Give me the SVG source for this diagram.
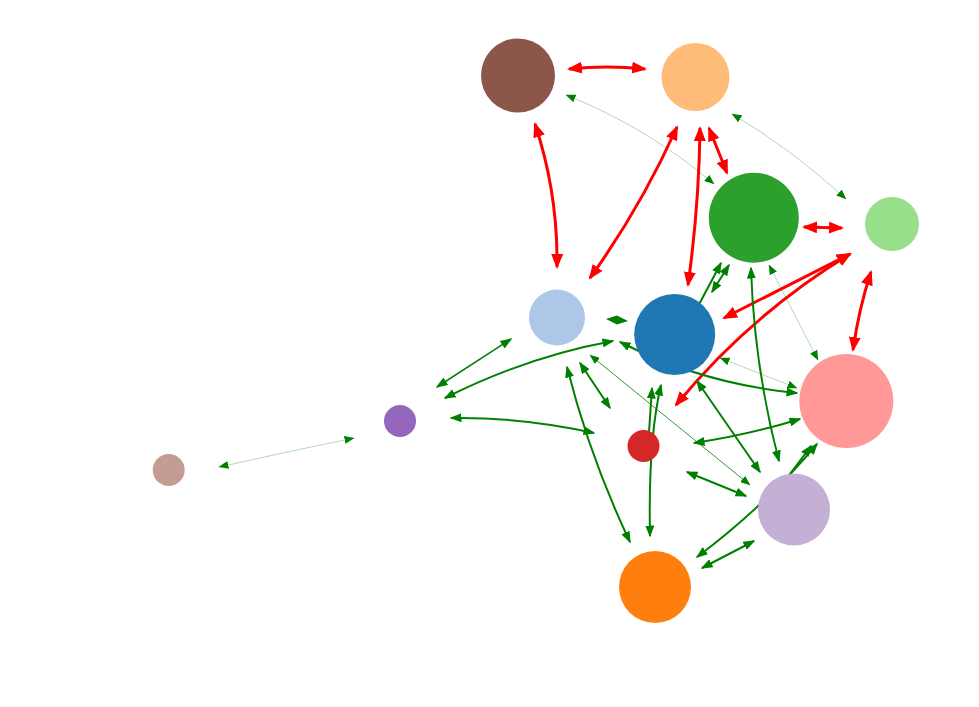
<svg xmlns="http://www.w3.org/2000/svg" width="979" height="707" viewBox="0 0 979 707">
<style>
.r{fill:none;stroke:#ff0000;stroke-width:3;marker-start:url(#rh);marker-end:url(#rh)}
.g{fill:none;stroke:#008000;stroke-width:2;marker-start:url(#gh);marker-end:url(#gh)}
.ge{fill:none;stroke:#008000;stroke-width:2;marker-end:url(#gh)}
.t{fill:none;stroke:#008000;stroke-opacity:0.3;stroke-width:1;marker-start:url(#sh);marker-end:url(#sh)}
.td{fill:none;stroke:#008000;stroke-width:0.8;marker-start:url(#sh);marker-end:url(#sh)}
</style>
<defs>
<marker id="rh" viewBox="0 0 15 12" refX="13" refY="6" markerWidth="15" markerHeight="12" markerUnits="userSpaceOnUse" orient="auto-start-reverse"><path d="M0,0L15,6L0,12z" fill="#ff0000"/></marker>
<marker id="gh" viewBox="0 0 12 9" refX="10.5" refY="4.5" markerWidth="12" markerHeight="9" markerUnits="userSpaceOnUse" orient="auto-start-reverse"><path d="M0,0L12,4.5L0,9z" fill="#008000"/></marker>
<marker id="sh" viewBox="0 0 10 8" refX="9.5" refY="4" markerWidth="10" markerHeight="8" markerUnits="userSpaceOnUse" orient="auto-start-reverse"><path d="M0,0L10,4L0,8z" fill="#008000"/></marker>
</defs>
<rect width="979" height="707" fill="#ffffff"/>
<g id="edges">
<path class="r" d="M569,69 Q607,65 645,69"/>
<path class="r" d="M535,124 Q558,193 557,267"/>
<path class="r" d="M677,127 Q641,207 590,278"/>
<path class="r" d="M700,128 Q699,207 688,285"/>
<path class="r" d="M709,128 L727,173"/>
<path class="r" d="M804,227 L842,228"/>
<path class="r" d="M850,254 L724,318"/>
<path class="r" d="M850,254 Q750,315 676,405"/>
<path class="r" d="M871,272 Q859,308 853,350"/>
<path class="g" style="stroke-width:1.5" d="M511,339 L437,387"/>
<path class="g" d="M445,398 Q526,357 613,341"/>
<path class="g" d="M620,342 Q703,384 797,393"/>
<path class="g" d="M451,418 Q522,417 594,433"/>
<path class="g" d="M567,367 Q590,458 630,542"/>
<path class="g" d="M580,363 L610,408"/>
<path class="td" d="M590,355 L750,485"/>
<path class="g" d="M650,536 Q648,440 661,385"/>
<path class="ge" d="M649,432 L652,388"/>
<path class="g" d="M697,381 L760,472"/>
<path class="g" d="M694,443 Q748,435 800,419"/>
<path class="g" d="M751,268 Q754,366 779,461"/>
<path class="t" d="M769,265 L818,360"/>
<path class="t" d="M720,358 L797,388"/>
<path class="g" d="M697,557 Q764,507 817,444"/>
<path class="ge" d="M790,474 L811,446"/>
<path class="g" d="M702,568 L754,541"/>
<path class="g" d="M687,472 L746,496"/>
<path class="ge" d="M695,312 L721,263"/>
<path class="g" d="M712,292 L729,265"/>
<polygon points="606,319 617,315.5 628,321 617,324.5" fill="#008000"/>
<path class="t" d="M566,95 Q647,127 714,184"/>
<path class="t" d="M732,114 Q793,150 846,199"/>
<path class="t" d="M219,467 Q286,452 354,438"/>
</g>
<g id="n_brown"><circle cx="518" cy="75.5" r="37" fill="#8c564b"/></g>
<g id="n_lightorange"><circle cx="695.5" cy="77" r="34" fill="#ffbb78"/></g>
<g id="n_green"><circle cx="753.8" cy="217.7" r="45" fill="#2ca02c"/></g>
<g id="n_lightgreen"><circle cx="892" cy="224" r="27" fill="#98df8a"/></g>
<g id="n_lightblue"><circle cx="557" cy="317.5" r="28" fill="#aec7e8"/></g>
<g id="n_blue"><circle cx="674.7" cy="334.5" r="40.5" fill="#1f77b4"/></g>
<g id="n_pink"><circle cx="846.3" cy="401" r="47" fill="#ff9896"/></g>
<g id="n_purple"><circle cx="400" cy="421" r="16" fill="#9467bd"/></g>
<g id="n_tan"><circle cx="168.7" cy="470" r="16" fill="#c49c94"/></g>
<g id="n_red"><circle cx="643.5" cy="446" r="16" fill="#d62728"/></g>
<g id="n_lavender"><circle cx="794" cy="509.5" r="36" fill="#c5b0d5"/></g>
<g id="n_orange"><circle cx="655" cy="587" r="36" fill="#ff7f0e"/></g>
</svg>
